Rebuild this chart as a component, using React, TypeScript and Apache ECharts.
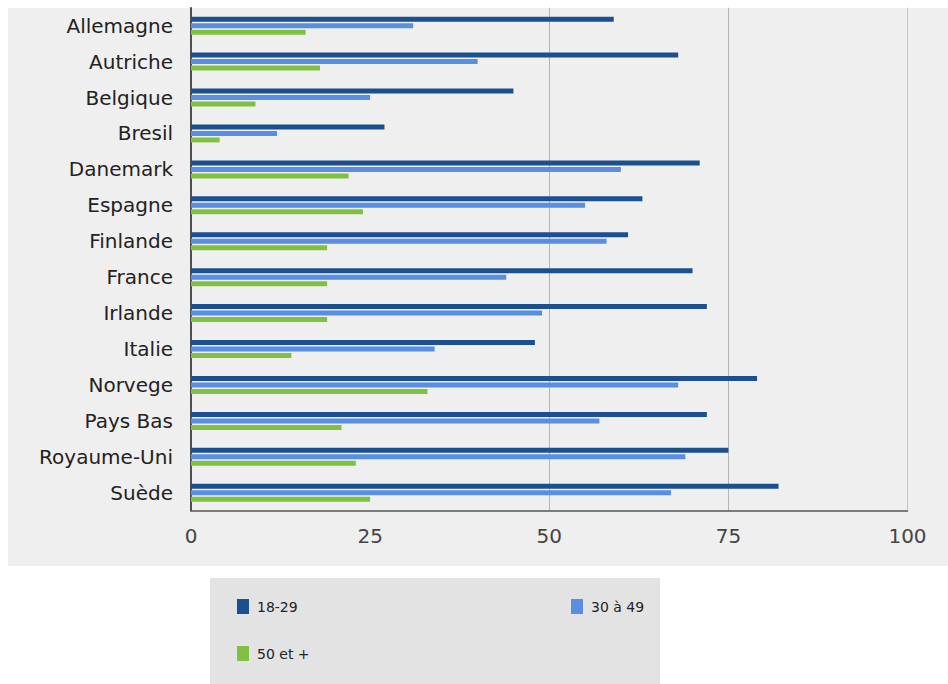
import React, { useEffect, useRef } from "react";
import * as echarts from "echarts";

const categories = [
  "Allemagne", "Autriche", "Belgique", "Bresil", "Danemark", "Espagne", "Finlande",
  "France", "Irlande", "Italie", "Norvege", "Pays Bas", "Royaume-Uni", "Suède",
];
const seriesNames = ["18-29", "30 à 49", "50 et +"];
const values1829 = [59, 68, 45, 27, 71, 63, 61, 70, 72, 48, 79, 72, 75, 82];
const values3049 = [31, 40, 25, 12, 60, 55, 58, 44, 49, 34, 68, 57, 69, 67];
const values50 = [16, 18, 9, 4, 22, 24, 19, 19, 19, 14, 33, 21, 23, 25];
const xTickMin = 0;
const xTickMax = 100;
const xTickStep = 25;

const COLORS = ["#1b4f8f", "#5a8ee0", "#80c043"];
const FONT = "DejaVu Sans";

export default function App() {
  const ref = useRef<HTMLDivElement>(null);
  useEffect(() => {
    if (!ref.current) return;
    const chart = echarts.init(ref.current, undefined, { renderer: "svg" });
    const seriesData = [values1829, values3049, values50];
    const legendText = { color: "#222", fontSize: 14, fontFamily: FONT, padding: [0, 0, 0, 3] };
    chart.setOption({
      animation: false,
      backgroundColor: "#ffffff",
      color: COLORS,
      graphic: [
        { type: "rect", silent: true, z: -10, shape: { x: 8, y: 8, width: 940, height: 558 }, style: { fill: "#efefef" } },
        { type: "rect", silent: true, z: -10, shape: { x: 210, y: 578, width: 450, height: 106 }, style: { fill: "#e3e3e3" } },
      ],
      legend: [
        { data: [seriesNames[0]], left: 237, top: 599, padding: 0, icon: "rect", itemWidth: 12, itemHeight: 15, textStyle: legendText },
        { data: [seriesNames[1]], left: 571, top: 599, padding: 0, icon: "rect", itemWidth: 12, itemHeight: 15, textStyle: legendText },
        { data: [seriesNames[2]], left: 237, top: 646, padding: 0, icon: "rect", itemWidth: 12, itemHeight: 15, textStyle: legendText },
      ],
      grid: { left: 191, right: 40.5, top: 7.7, bottom: 173.3, containLabel: false },
      xAxis: {
        type: "value",
        min: xTickMin,
        max: xTickMax,
        interval: xTickStep,
        axisLine: { show: true, lineStyle: { color: "#555", width: 1.5 } },
        axisTick: { show: false },
        axisLabel: { color: "#444", fontSize: 20, fontFamily: FONT, margin: 15 },
        splitLine: {
          show: true,
          lineStyle: { color: ["rgba(0,0,0,0)", "rgba(0,0,0,0)", "#b5b5b5", "#b5b5b5", "#c4c4c4"], width: 1 },
        },
      },
      yAxis: {
        type: "category",
        inverse: true,
        data: categories,
        axisLine: { show: true, lineStyle: { color: "#1a1a1a", width: 1.5 } },
        axisTick: { show: false },
        axisLabel: { color: "#222", fontSize: 20, fontFamily: FONT, margin: 18 },
      },
      series: seriesNames.map((name, i) => ({
        name,
        type: "bar",
        data: seriesData[i],
        barWidth: 5,
        barGap: "30%",
        itemStyle: { color: COLORS[i] },
      })),
    });
    return () => chart.dispose();
  }, []);
  return (
    <div
      ref={ref}
      style={{ position: "fixed", left: 0, top: 0, width: 948, height: 684 }}
    />
  );
}
